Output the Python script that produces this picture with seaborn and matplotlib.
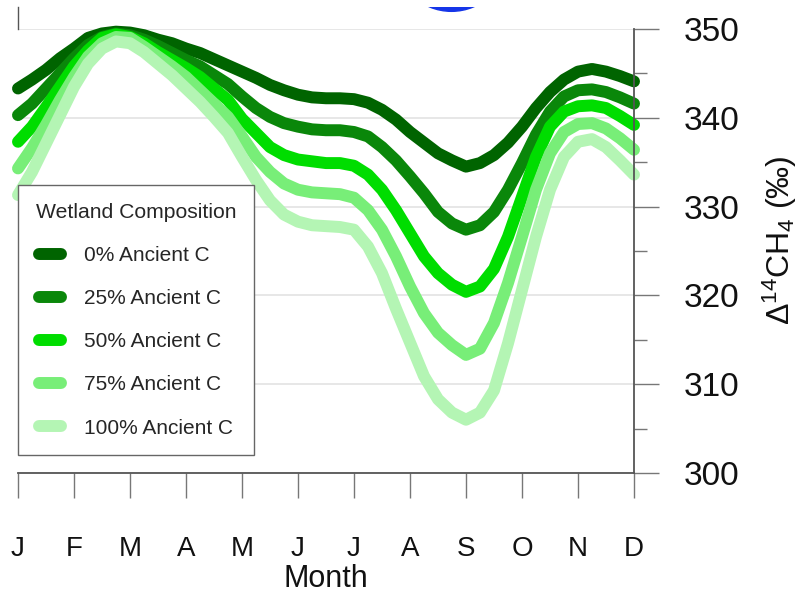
import numpy as np
import pandas as pd
import matplotlib
matplotlib.use("Agg")
import matplotlib.pyplot as plt
import seaborn as sns
from matplotlib.transforms import Bbox, TransformedBbox

# ---------------- data ----------------
month_labels = ["J", "F", "M", "A", "M", "J", "J", "A", "S", "O", "N", "D"]
# sample positions (quarter-month steps, 0 = January, 11 = December)
month_pos = [k / 4 for k in range(45)]

ancient_0 = [343.3, 344.3, 345.4, 346.7, 347.8, 349.0, 349.5, 349.7, 349.6, 349.3, 348.8, 348.4,
             347.8, 347.3, 346.6, 345.9, 345.2, 344.5, 343.7, 343.1, 342.6, 342.3, 342.2, 342.2,
             342.1, 341.7, 340.9, 339.8, 338.4, 337.2, 336.0, 335.2, 334.5, 334.9, 335.8, 337.2,
             339.0, 341.1, 342.9, 344.3, 345.2, 345.5, 345.2, 344.7, 344.1]
ancient_25 = [340.3, 341.6, 343.3, 345.0, 346.7, 348.2, 349.1, 349.5, 349.3, 348.8, 348.1, 347.3,
              346.5, 345.8, 344.8, 343.8, 342.4, 341.1, 340.1, 339.4, 339.0, 338.7, 338.6, 338.6,
              338.4, 337.9, 336.7, 335.2, 333.4, 331.5, 329.4, 328.1, 327.4, 327.9, 329.4, 331.9,
              334.9, 338.1, 340.7, 342.4, 343.1, 343.2, 342.9, 342.3, 341.6]
ancient_50 = [337.3, 339.0, 341.2, 343.5, 345.8, 347.6, 349.0, 349.4, 349.1, 348.4, 347.4, 346.5,
              345.6, 344.6, 343.3, 342.0, 339.9, 338.3, 336.7, 335.8, 335.3, 335.1, 334.9, 334.9,
              334.6, 333.6, 331.9, 329.6, 327.0, 324.4, 322.5, 321.2, 320.4, 321.0, 323.0, 326.6,
              331.1, 335.6, 339.0, 340.7, 341.3, 341.4, 341.1, 340.2, 339.2]
ancient_75 = [334.3, 336.6, 339.2, 342.0, 344.6, 346.9, 348.4, 349.1, 349.0, 348.0, 346.9, 345.8,
              344.6, 343.1, 341.6, 340.1, 337.9, 335.6, 333.9, 332.6, 331.9, 331.6, 331.5, 331.4,
              331.0, 329.6, 327.4, 324.4, 321.0, 318.0, 315.8, 314.4, 313.3, 314.0, 316.9, 321.4,
              326.6, 331.9, 336.0, 338.4, 339.3, 339.4, 338.8, 337.7, 336.4]
ancient_100 = [331.3, 333.9, 337.1, 340.3, 343.5, 346.1, 347.8, 348.6, 348.4, 347.4, 346.1, 344.8,
               343.3, 341.8, 340.1, 338.3, 335.6, 333.0, 330.7, 329.1, 328.3, 327.9, 327.8, 327.7,
               327.4, 325.5, 322.5, 318.5, 314.7, 310.9, 308.3, 306.8, 306.0, 306.8, 309.3, 314.6,
               320.6, 326.6, 331.9, 335.6, 337.3, 337.6, 336.7, 335.2, 333.6]

series_names = ["0% Ancient C", "25% Ancient C", "50% Ancient C", "75% Ancient C", "100% Ancient C"]
series_values = [ancient_0, ancient_25, ancient_50, ancient_75, ancient_100]
series_colors = ["#006400", "#0a870a", "#00dd00", "#78ee78", "#b4f5b4"]

# partially visible blue marker at the top edge of the picture
blue_x = [7.73]
blue_y = [358.4]

y_major = [300, 310, 320, 330, 340, 350]
y_minor = [305, 315, 325, 335, 345]

# ---------------- build table ----------------
rows = []
for name, vals in zip(series_names, series_values):
    for xp, v in zip(month_pos, vals):
        rows.append({"month": xp, "value": v, "series": name})
df = pd.DataFrame(rows)

sns.set_style("white")
plt.rcParams["font.family"] = ["Liberation Sans", "DejaVu Sans"]
plt.rcParams["mathtext.default"] = "regular"

fig = plt.figure(figsize=(8.03, 5.98), dpi=100)
ax = fig.add_axes([18 / 803, 1 - 473 / 598, 616 / 803, 444 / 598])

sns.lineplot(data=df, x="month", y="value", hue="series", hue_order=series_names,
             palette=dict(zip(series_names, series_colors)), linewidth=8.6,
             ax=ax, legend=True, sort=True)
for ln in ax.lines:
    ln.set_solid_capstyle("round")
    ln.set_solid_joinstyle("round")
    ln.set_clip_on(False)

ax.set_xlim(0, 11)
ax.set_ylim(300, 350)

# grid
ax.set_yticks(y_major)
ax.set_yticks(y_minor, minor=True)
ax.yaxis.grid(True, which="major", color="#e3e3e3", linewidth=1.2)
ax.set_axisbelow(True)

# spines
ax.spines["top"].set_visible(False)
ax.spines["left"].set_bounds(350, 352.48)
ax.spines["left"].set_color("#555555")
ax.spines["left"].set_linewidth(1.0)
for side in ["bottom", "right"]:
    ax.spines[side].set_color("#555555")
    ax.spines[side].set_linewidth(1.3)

# y axis on the right
ax.yaxis.tick_right()
ax.yaxis.set_label_position("right")
ax.tick_params(axis="y", which="major", direction="out", length=18, width=1.0,
               color="#777777", labelsize=24, pad=18, labelcolor="#111111",
               left=False, right=True)
ax.tick_params(axis="y", which="minor", direction="out", length=9, width=1.0,
               color="#777777", left=False, right=True)
ax.set_ylabel(r"Δ$^{14}$CH$_4$ (‰)", fontsize=23, color="#111111")
ax.yaxis.set_label_coords((761 - 18) / 616, (473 - 240) / 444)

# x axis
ax.set_xticks(range(12))
ax.set_xticklabels(month_labels)
ax.tick_params(axis="x", which="major", direction="out", length=18, width=1.0,
               color="#777777", labelsize=20, pad=27, labelcolor="#111111",
               bottom=True, top=False)
ax.set_xlabel("Month", fontsize=22, color="#111111", labelpad=2)

# blue marker, partly visible at the top edge
coll = ax.scatter(blue_x, blue_y, s=6700, color="#1535e8", zorder=5)
coll.set_clip_on(True)
coll.set_clip_path(None)
coll.set_clip_box(TransformedBbox(Bbox([[0, 0], [1, 1 - 7 / 598]]), fig.transFigure))

# legend
handles, labels = ax.get_legend_handles_labels()
for h in handles:
    h.set_linewidth(8.6)
    h.set_solid_capstyle("round")
leg = ax.legend(handles, labels, title="Wetland Composition", loc="upper left",
                bbox_to_anchor=(0, (473 - 185) / 444), borderaxespad=0,
                frameon=True, fancybox=False, framealpha=1, edgecolor="#666666",
                prop={"size": 15}, title_fontsize=15.2,
                handlelength=1.03, handletextpad=1.1, labelspacing=1.16,
                borderpad=0.85)
leg.get_frame().set_linewidth(1.0)

fig.savefig("out.png", dpi=100)
